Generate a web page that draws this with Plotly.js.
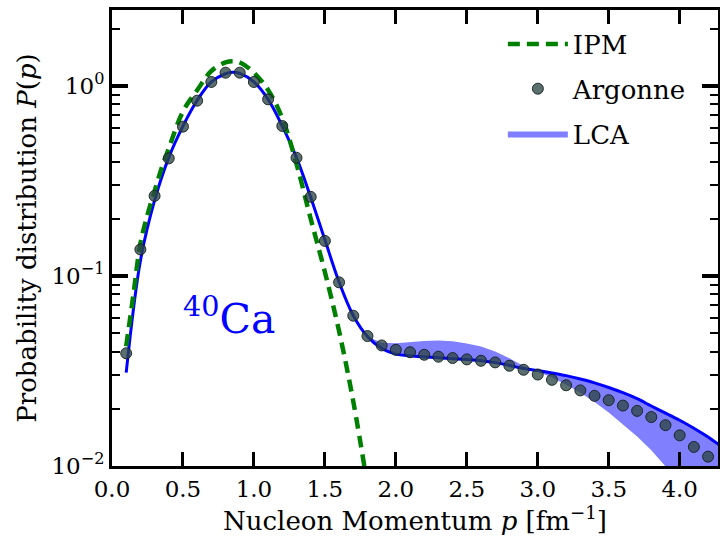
<!DOCTYPE html>
<html><head><meta charset="utf-8">
<script src="https://cdn.plot.ly/plotly-3.0.1.min.js"></script>
<style>html,body{margin:0;padding:0;background:#fff}#chart{width:720px;height:544px}</style>
</head><body><div id="chart"></div>
<script>
// Argonne (points)
const argonneP = [0.1,0.2,0.3,0.4,0.5,0.6,0.7,0.8,0.9,1.0,1.1,1.2,1.3,1.4,1.5,1.6,1.7,1.8,1.9,2.0,2.1,2.2,2.3,2.4,2.5,2.6,2.7,2.8,2.9,3.0,3.1,3.2,3.3,3.4,3.5,3.6,3.7,3.8,3.9,4.0,4.1,4.2];
const argonneProb = [0.0392,0.138,0.264,0.416,0.611,0.837,1.05,1.175,1.175,1.05,0.851,0.616,0.419,0.261,0.153,0.0926,0.0618,0.0483,0.0431,0.0409,0.0397,0.0385,0.0376,0.0370,0.0364,0.0358,0.0351,0.0337,0.0321,0.0303,0.0284,0.0266,0.0250,0.0234,0.0222,0.0208,0.0195,0.0181,0.0164,0.0145,0.0126,0.0112];
// IPM (dashed)
const ipmP = [0.1,0.15,0.2,0.25,0.3,0.35,0.4,0.5,0.6,0.7,0.8,0.85,0.9,1.0,1.1,1.2,1.3,1.4,1.5,1.6,1.7,1.8];
const ipmProb = [0.0427,0.079,0.148,0.21,0.28,0.37,0.47,0.735,0.95,1.2,1.33,1.35,1.33,1.175,0.953,0.676,0.389,0.20,0.105,0.0513,0.0219,0.0079];
// LCA central line
const lcaP = [0.1,0.2,0.3,0.4,0.5,0.6,0.7,0.8,0.85,0.9,1.0,1.1,1.2,1.3,1.4,1.5,1.6,1.7,1.8,1.9,2.0,2.1,2.2,2.3,2.4,2.5,2.6,2.7,2.8,2.9,3.0,3.1,3.2,3.3,3.4,3.5,3.6,3.7,3.8,3.9,4.0,4.1,4.2,4.28];
const lcaProb = [0.031,0.12,0.25,0.42,0.615,0.84,1.05,1.16,1.18,1.165,1.05,0.85,0.615,0.42,0.26,0.155,0.093,0.062,0.048,0.0415,0.0388,0.0380,0.0375,0.0371,0.0367,0.0363,0.0358,0.0350,0.0338,0.0326,0.0318,0.0309,0.0299,0.0287,0.0274,0.0259,0.0243,0.0226,0.0207,0.0190,0.0174,0.0158,0.0142,0.0129];
// LCA band
const bandP = [1.8,1.9,2.0,2.1,2.2,2.3,2.4,2.5,2.6,2.7,2.8,2.9,3.0,3.1,3.2,3.3,3.4,3.5,3.6,3.7,3.8,3.9,4.0,4.1,4.2,4.28];
const bandLow = [0.048,0.0415,0.0388,0.0380,0.0375,0.0371,0.0367,0.0363,0.0358,0.0350,0.0338,0.0326,0.0313,0.0292,0.0268,0.0243,0.0217,0.0191,0.0166,0.0143,0.0121,0.0099,0.0082,0.0068,0.0056,0.0048];
const bandHigh = [0.048,0.0445,0.0442,0.0449,0.0455,0.0457,0.0453,0.0441,0.0425,0.0401,0.0369,0.0336,0.0318,0.0309,0.0299,0.0287,0.0274,0.0259,0.0243,0.0226,0.0207,0.0190,0.0174,0.0158,0.0142,0.0129];
// axes
const xTicks = [0,0.5,1.0,1.5,2.0,2.5,3.0,3.5,4.0];
const xTickText = ['0.0','0.5','1.0','1.5','2.0','2.5','3.0','3.5','4.0'];
const yTicks = [0.01,0.1,1];
const yTickText = ['10<sup>−2</sup>','10<sup>−1</sup>','10<sup>0</sup>'];
const yMinorTicks = [0.02,0.03,0.04,0.05,0.06,0.07,0.08,0.09,0.2,0.3,0.4,0.5,0.6,0.7,0.8,0.9,2];

const FONT = 'DejaVu Serif';

const traces = [
  {x: bandP, y: bandLow, type:'scatter', mode:'lines', line:{width:0, color:'#8080ff'}, showlegend:false, hoverinfo:'skip', legendgroup:'lcaLow'},
  {x: bandP, y: bandHigh, type:'scatter', mode:'lines', line:{width:0, color:'#8080ff'}, fill:'tonexty', fillcolor:'#8080ff', name:'LCA', legendrank:3, legendgroup:'lca'},
  {x: lcaP, y: lcaProb, type:'scatter', mode:'lines', line:{color:'#0000ff', width:3, shape:'spline'}, showlegend:false, legendgroup:'lcaLine'},
  {x: ipmP, y: ipmProb, type:'scatter', mode:'lines', line:{color:'#008000', width:4.5, dash:'12px,7px', shape:'spline'}, name:'IPM', legendrank:1, legendgroup:'ipm'},
  {x: argonneP, y: argonneProb, type:'scatter', mode:'markers', marker:{size:11, color:'rgba(45,70,70,0.78)', line:{color:'rgba(20,30,30,0.9)', width:1}}, name:'Argonne', legendrank:2, legendgroup:'arg'}
];

const axisCommon = {
  showline:true, linewidth:3, linecolor:'black', mirror:'ticks',
  ticks:'inside', tickcolor:'black', showgrid:false, zeroline:false,
  tickfont:{family:FONT, size:23, color:'black'}
};

const layout = {
  width:720, height:544,
  margin:{l:112, r:2, t:10, b:78},
  paper_bgcolor:'white', plot_bgcolor:'white',
  font:{family:FONT, color:'black'},
  xaxis: Object.assign({}, axisCommon, {
    range:[0,4.27], tickvals:xTicks, ticktext:xTickText, ticklen:14, tickwidth:3,
    title:{text:'Nucleon Momentum <i>p</i> [fm<sup>−1</sup>]', font:{family:FONT, size:26, color:'black'}, standoff:4}
  }),
  yaxis: Object.assign({}, axisCommon, {
    type:'log', range:[-2,0.4], tickvals:yTicks, ticktext:yTickText, ticklen:16, tickwidth:3.5,
    minor:{tickvals:yMinorTicks, ticks:'inside', ticklen:8, tickwidth:2, tickcolor:'black', showgrid:false},
    title:{text:'Probability distribution <i>P</i>(<i>p</i>)', font:{family:FONT, size:26, color:'black'}, standoff:8}
  }),
  legend:{x:0.645, y:0.977, xanchor:'left', yanchor:'top', bgcolor:'rgba(0,0,0,0)', font:{family:FONT, size:26, color:'black'}, traceorder:'grouped', tracegroupgap:8, itemwidth:60},
  annotations:[{xref:'paper', yref:'paper', x:0.193, y:0.33, xanchor:'center', yanchor:'middle', showarrow:false, text:'<sup>40</sup>Ca', font:{family:FONT, size:41, color:'#0000ff'}}]
};

Plotly.newPlot('chart', traces, layout, {staticPlot:true, displayModeBar:false});
</script>
</body></html>
